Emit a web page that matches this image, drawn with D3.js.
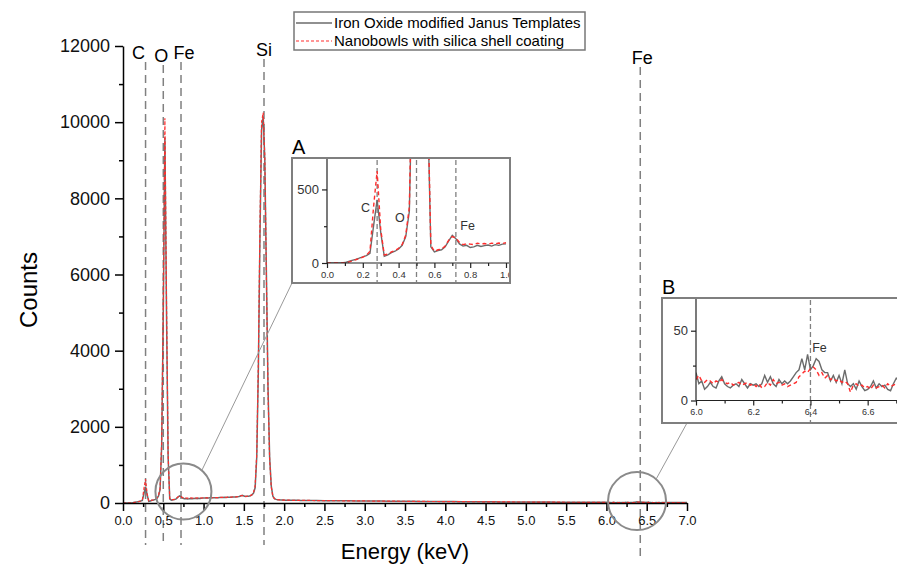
<!DOCTYPE html>
<html>
<head>
<meta charset="utf-8">
<script src="https://cdn.jsdelivr.net/npm/d3@7"></script>
<style>
  body { margin: 0; background: #fff; }
  svg { display: block; font-family: "Liberation Sans", Arial, sans-serif; }
</style>
</head>
<body>
<div id="chart"></div>
<script>
// ---- data ----
// low energy part, 0.00 .. 1.00 keV in 0.02 steps
const lowE = d3.range(51).map(i => i * 0.02);
const lowJanus = [0,0,0,0,0,3,10,18,25,33,42,50,65,250,430,210,45,55,70,80,95,120,180,350,1500,5000,9600,5000,1200,110,
  75,85,90,110,150,188,165,130,115,120,105,110,120,112,118,122,115,125,120,128,130];
const lowBowls = [0,0,0,0,0,0,6,14,22,30,40,52,80,380,625,230,55,60,75,85,100,125,190,380,1600,5300,10100,5300,1300,120,
  80,90,95,115,155,180,170,140,125,130,128,125,135,130,132,128,135,130,136,132,138];

// 1.02 .. 2.20 keV in 0.02 steps (Si peak)
const midE = d3.range(60).map(i => 1.02 + i * 0.02);
const midJanus = [130,135,130,135,140,135,140,138,140,145,142,145,148,145,150,150,152,155,158,160,
  165,170,185,200,185,170,175,180,190,210,260,400,1200,3500,7000,9800,10150,9000,6000,3000,
  1200,450,180,115,95,88,82,80,78,76,75,74,73,72,72,71,70,70,69,68];
const midBowls = [135,132,135,138,140,138,142,140,143,145,146,148,147,150,152,150,155,157,160,162,
  168,175,190,195,180,172,178,185,195,215,280,450,1300,3700,7300,10000,10250,9100,5900,2900,
  1150,420,170,112,96,88,84,80,78,77,76,74,74,72,71,71,70,69,69,68];

// 2.3 .. 5.9 keV in 0.1 steps
const tailE = d3.range(37).map(i => 2.3 + i * 0.1);
const tailJanus = [66,65,62,61,58,57,55,53,52,50,49,47,45,44,42,41,39,38,37,35,34,33,32,30,29,28,27,26,25,24,23,22,21,20,19,18,18];
const tailBowls = [68,64,63,60,59,56,55,54,51,50,48,47,46,43,42,40,39,37,36,35,33,33,31,30,29,28,26,26,24,24,22,22,20,20,18,18,17];

// 6.00 .. 6.72 keV in 0.01 steps (Fe K line)
const feE = d3.range(73).map(i => 6.0 + i * 0.01);
const feJanus = [20,12,14,8,10,13,10,9,14,17,
  12,10,9,11,12,10,15,12,9,12,
  11,12,10,12,18,13,17,12,10,15,
  12,14,12,14,17,20,22,30,22,33,
  22,25,30,28,22,20,20,14,18,13,
  18,12,22,12,10,12,8,14,10,7,
  8,10,14,9,12,10,11,8,7,12,
  16,14,12];
const feBowls = [15,18,14,13,15,14,12,14,13,15,
  13,12,13,11,12,13,11,12,13,11,
  12,10,12,9,10,13,11,15,12,13,
  11,12,10,11,12,13,17,19,21,20,
  23,24,22,18,20,16,18,15,16,14,
  15,13,14,12,6,11,12,10,11,9,
  10,8,11,9,10,11,9,12,10,11,
  12,10,11];

const endE = [6.8, 6.9, 7.0];
const endJanus = [12, 11, 10];
const endBowls = [11, 10, 10];

const seriesNames = ["Iron Oxide modified Janus Templates", "Nanobowls with silica shell coating"];

const elements = ["C", "O", "Fe", "Si", "Fe"];
const elementE = [0.28, 0.50, 0.72, 1.75, 6.42];

const xTicks = d3.range(15).map(i => i * 0.5);
const xMinor = d3.range(14).map(i => 0.25 + i * 0.5);
const yTicks = [0, 2000, 4000, 6000, 8000, 10000, 12000];
const yMinor = [1000, 3000, 5000, 7000, 9000, 11000];

const insetAMarks = ["C", "O", "Fe"];
const insetAE = [0.28, 0.50, 0.72];
const insetBMarkE = 6.40;

// ---- layout ----
const W = 897, H = 565;
const svg = d3.select("#chart").append("svg").attr("width", W).attr("height", H);

const x = d3.scaleLinear().domain([0, 7]).range([123, 687]);
const y = d3.scaleLinear().domain([0, 12000]).range([503, 46]);

const GRAY = "#6b6b6b", RED = "#ff2d2d", DASH = "#808080";

function pts(es, vs) { return es.map((e, i) => ({ e: e, v: vs[i] })); }

const allJanus = pts(lowE, lowJanus).concat(pts(midE, midJanus), pts(tailE, tailJanus), pts(feE, feJanus), pts(endE, endJanus));
const allBowls = pts(lowE, lowBowls).concat(pts(midE, midBowls), pts(tailE, tailBowls), pts(feE, feBowls), pts(endE, endBowls));

// element marker lines
const labelDx = [-7, -2, 3, 0, 2];
const labelY = [59, 62, 59, 56, 64];
const lineBottom = [545, 545, 545, 545, 556];

svg.append("g").selectAll("line")
  .data(elementE).enter().append("line")
  .attr("x1", d => x(d)).attr("x2", d => x(d))
  .attr("y1", (d, i) => labelY[i] + 3).attr("y2", (d, i) => lineBottom[i])
  .attr("stroke", DASH).attr("stroke-width", 1.5).attr("stroke-dasharray", "8,5");

svg.append("g").selectAll("text")
  .data(elements).enter().append("text")
  .attr("x", (d, i) => x(elementE[i]) + labelDx[i])
  .attr("y", (d, i) => labelY[i])
  .attr("text-anchor", "middle").attr("font-size", 18)
  .text(d => d);

// spectra
const line = d3.line().x(d => x(d.e)).y(d => y(d.v));
svg.append("path").datum(allJanus).attr("d", line)
  .attr("fill", "none").attr("stroke", GRAY).attr("stroke-width", 1.5);
svg.append("path").datum(allBowls).attr("d", line)
  .attr("fill", "none").attr("stroke", RED).attr("stroke-width", 1.2).attr("stroke-dasharray", "3,2");

// axes
function styleAxis(g, fs) {
  g.selectAll(".domain").attr("stroke", "#000").attr("stroke-width", 1.5);
  g.selectAll(".tick line").attr("stroke", "#000").attr("stroke-width", 1.5);
  g.selectAll("text").attr("font-size", fs).attr("font-family", null).attr("fill", "#111");
  g.attr("font-family", null);
}

const gxMinor = svg.append("g").attr("transform", "translate(0,503)")
  .call(d3.axisBottom(x).tickValues(xMinor).tickSize(4).tickFormat(""));
gxMinor.select(".domain").remove();
styleAxis(gxMinor, 13);
const gx = svg.append("g").attr("transform", "translate(0,503)")
  .call(d3.axisBottom(x).tickValues(xTicks).tickSize(8).tickSizeOuter(0).tickPadding(5).tickFormat(d3.format(".1f")));
styleAxis(gx, 13);

const gyMinor = svg.append("g").attr("transform", "translate(123,0)")
  .call(d3.axisLeft(y).tickValues(yMinor).tickSize(4).tickFormat(""));
gyMinor.select(".domain").remove();
styleAxis(gyMinor, 18);
const gy = svg.append("g").attr("transform", "translate(123,0)")
  .call(d3.axisLeft(y).tickValues(yTicks).tickSize(8).tickSizeOuter(0).tickPadding(5).tickFormat(d3.format("d")));
styleAxis(gy, 18);

svg.append("text").attr("x", 405).attr("y", 559).attr("text-anchor", "middle")
  .attr("font-size", 22).text("Energy (keV)");
svg.append("text").attr("transform", "translate(37,290) rotate(-90)").attr("text-anchor", "middle")
  .attr("font-size", 24).text("Counts");

// legend
const lg = svg.append("g");
lg.append("rect").attr("x", 294).attr("y", 12).attr("width", 291).attr("height", 38)
  .attr("fill", "#fff").attr("stroke", "#777").attr("stroke-width", 1.5);
lg.append("line").attr("x1", 296).attr("x2", 332).attr("y1", 23).attr("y2", 23)
  .attr("stroke", GRAY).attr("stroke-width", 1.5);
lg.append("line").attr("x1", 296).attr("x2", 332).attr("y1", 41).attr("y2", 41)
  .attr("stroke", RED).attr("stroke-width", 1.2).attr("stroke-dasharray", "3,2");
lg.selectAll("text.lt").data(seriesNames).enter().append("text")
  .attr("x", 334).attr("y", (d, i) => 28 + i * 18)
  .attr("font-size", 15).text(d => d);

// zoom circles and connectors
const zoomAt = [{ e: 0.75, v: 300, r: 28 }, { e: 6.38, v: 50, r: 29 }];
svg.append("g").selectAll("circle").data(zoomAt).enter().append("circle")
  .attr("cx", d => x(d.e)).attr("cy", d => y(d.v)).attr("r", d => d.r)
  .attr("fill", "none").attr("stroke", "#8a8a8a").attr("stroke-width", 2);

const boxA = { x: 292, y: 158, w: 218, h: 125 };
const boxB = { x: 662, y: 298, w: 250, h: 125 };
const ang = -49 * Math.PI / 180;
const connEnds = [[boxA.x, boxA.y + boxA.h], [boxB.x + 25, boxB.y + boxB.h]];
svg.append("g").selectAll("line").data(zoomAt).enter().append("line")
  .attr("x1", d => x(d.e) + d.r * Math.cos(ang)).attr("y1", d => y(d.v) + d.r * Math.sin(ang))
  .attr("x2", (d, i) => connEnds[i][0]).attr("y2", (d, i) => connEnds[i][1])
  .attr("stroke", "#999").attr("stroke-width", 1);

// inset drawing helper
function inset(box, xs, ys, opt) {
  const g = svg.append("g");
  const id = "clip" + opt.name;
  g.append("clipPath").attr("id", id).append("rect")
    .attr("x", box.x).attr("y", box.y).attr("width", box.w).attr("height", box.h);
  g.append("rect").attr("x", box.x).attr("y", box.y).attr("width", box.w).attr("height", box.h)
    .attr("fill", "#fff");
  const c = g.append("g").attr("clip-path", "url(#" + id + ")");

  c.selectAll("line.mk").data(opt.marks).enter().append("line")
    .attr("x1", d => xs(d)).attr("x2", d => xs(d))
    .attr("y1", ys.range()[1]).attr("y2", box.y + box.h)
    .attr("stroke", DASH).attr("stroke-width", 1.3).attr("stroke-dasharray", "5,3");

  const pc = c.append("g");
  pc.append("clipPath").attr("id", id + "p").append("rect")
    .attr("x", xs.range()[0]).attr("y", box.y).attr("width", box.w).attr("height", ys.range()[0] - box.y);
  const ln = d3.line().x(d => xs(d.e)).y(d => ys(d.v));
  const lines = pc.append("g").attr("clip-path", "url(#" + id + "p)");
  lines.append("path").datum(opt.a).attr("d", ln)
    .attr("fill", "none").attr("stroke", GRAY).attr("stroke-width", 1.4);
  lines.append("path").datum(opt.b).attr("d", ln)
    .attr("fill", "none").attr("stroke", RED).attr("stroke-width", 1.4).attr("stroke-dasharray", "4,3");

  const bx = c.append("g").attr("transform", "translate(0," + ys.range()[0] + ")");
  const bxm = bx.append("g").call(d3.axisBottom(xs).tickValues(opt.xMinor).tickSize(3).tickFormat(""));
  bxm.select(".domain").remove();
  const bxM = bx.append("g").call(d3.axisBottom(xs).tickValues(opt.xTicks).tickSize(5).tickSizeOuter(0)
    .tickPadding(3).tickFormat(d3.format(".1f")));
  [bxm, bxM].forEach(a => {
    a.selectAll(".domain,.tick line").attr("stroke", "#222").attr("stroke-width", 1.2);
    a.selectAll("text").attr("font-size", opt.xfs).attr("fill", "#333");
    a.attr("font-family", null);
  });
  bxM.select(".domain").attr("d", "M" + xs.range()[0] + ",0H" + (box.x + box.w));

  const ly = c.append("g").attr("transform", "translate(" + xs.range()[0] + ",0)");
  const lym = ly.append("g").call(d3.axisLeft(ys).tickValues(opt.yMinor).tickSize(3).tickFormat(""));
  lym.select(".domain").remove();
  const lyM = ly.append("g").call(d3.axisLeft(ys).tickValues(opt.yTicks).tickSize(5).tickSizeOuter(0)
    .tickPadding(3).tickFormat(d3.format("d")));
  [lym, lyM].forEach(a => {
    a.selectAll(".domain,.tick line").attr("stroke", "#222").attr("stroke-width", 1.2);
    a.selectAll("text").attr("font-size", 13).attr("fill", "#333");
    a.attr("font-family", null);
  });
  lyM.select(".domain").attr("d", "M0," + ys.range()[0] + "V" + box.y);

  c.selectAll("text.lab").data(opt.labels).enter().append("text")
    .attr("x", d => d.x).attr("y", d => d.y).attr("font-size", 12.5).attr("fill", "#333")
    .text(d => d.t);

  g.append("rect").attr("x", box.x).attr("y", box.y).attr("width", box.w).attr("height", box.h)
    .attr("fill", "none").attr("stroke", "#7f7f7f").attr("stroke-width", 2);
  svg.append("text").attr("x", box.x).attr("y", box.y - 4).attr("font-size", 20).text(opt.name);
}

const xa = d3.scaleLinear().domain([0, 1]).range([327, 506]);
const ya = d3.scaleLinear().domain([0, 700]).range([263, 160]);
inset(boxA, xa, ya, {
  name: "A", marks: insetAE,
  a: pts(lowE, lowJanus), b: pts(lowE, lowBowls),
  xTicks: [0, 0.2, 0.4, 0.6, 0.8, 1.0], xMinor: [0.1, 0.3, 0.5, 0.7, 0.9],
  yTicks: [0, 500], yMinor: [250], xfs: 9.5,
  labels: [
    { t: insetAMarks[0], x: xa(0.19), y: ya(350) },
    { t: insetAMarks[1], x: xa(0.38), y: ya(280) },
    { t: insetAMarks[2], x: xa(0.745), y: ya(225) }
  ]
});

const xb = d3.scaleLinear().domain([6.0, 6.72]).range([696, 902]);
const yb = d3.scaleLinear().domain([0, 72]).range([400.5, 300]);
inset(boxB, xb, yb, {
  name: "B", marks: [insetBMarkE],
  a: pts(feE, feJanus), b: pts(feE, feBowls),
  xTicks: [6.0, 6.2, 6.4, 6.6], xMinor: [6.1, 6.3, 6.5, 6.7],
  yTicks: [0, 50], yMinor: [25], xfs: 9,
  labels: [{ t: "Fe", x: xb(6.406), y: yb(35) }]
});
</script>
</body>
</html>
